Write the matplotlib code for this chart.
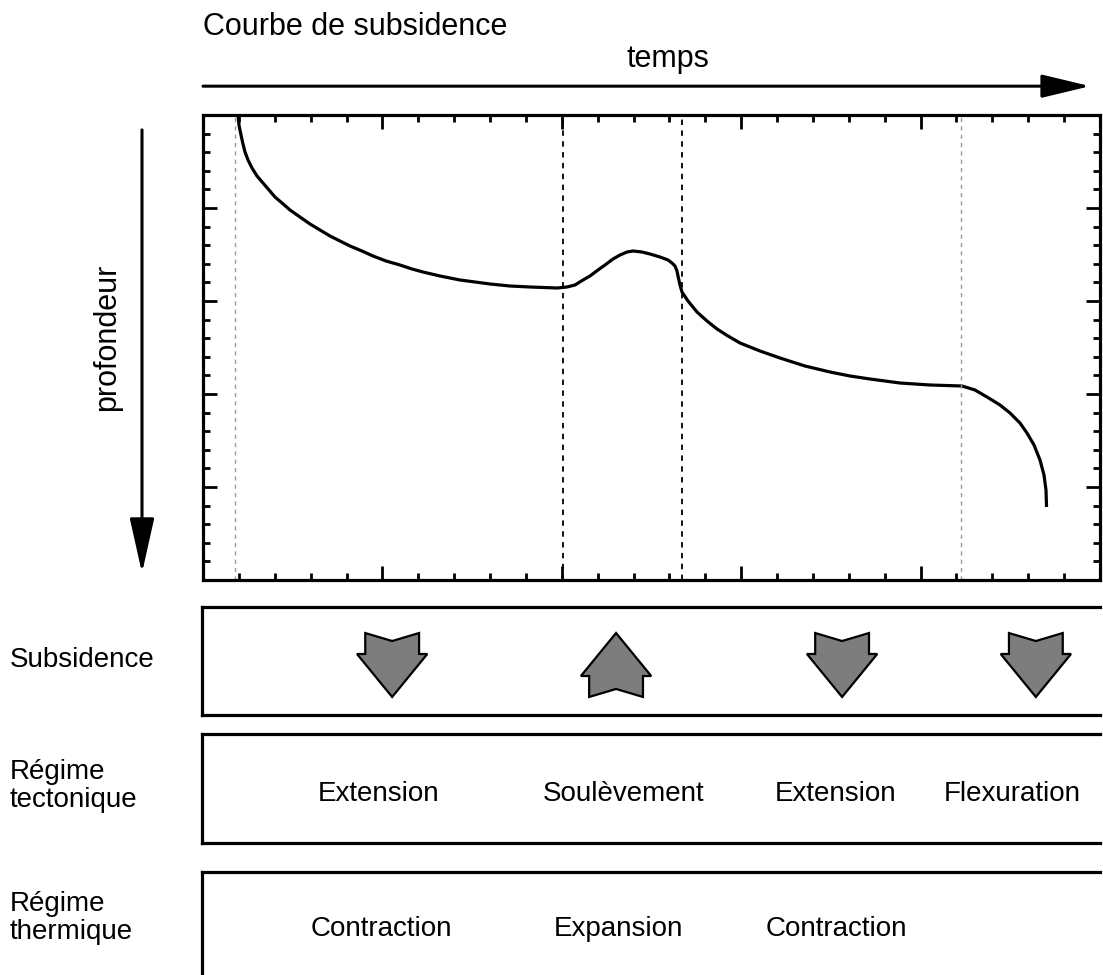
import matplotlib
matplotlib.use("Agg")
import matplotlib.pyplot as plt
from matplotlib.patches import Polygon

plt.rcParams['font.family'] = ['Liberation Sans', 'DejaVu Sans']

# subsidence curve (time units 0-25, depth units 0-25)
temps = [0.975, 1.003, 1.059, 1.115, 1.171, 1.254, 1.366, 1.505, 1.672, 1.839,
         2.007, 2.202, 2.425, 2.703, 2.982, 3.261, 3.540, 3.818, 4.097, 4.431,
         4.738, 5.100, 5.490, 5.825, 6.131, 6.605, 7.163, 7.581, 7.999, 8.556,
         9.114, 9.866, 10.145, 10.368, 10.591, 10.786, 11.009, 11.204, 11.427,
         11.622, 11.817, 11.984, 12.235, 12.458, 12.737, 12.960, 13.071, 13.155,
         13.211, 13.239, 13.294, 13.350, 13.517, 13.768, 14.047, 14.326, 14.632,
         14.967, 15.524, 16.081, 16.778, 17.475, 18.032, 18.590, 19.426, 20.262,
         21.154, 21.516, 21.851, 22.213, 22.492, 22.770, 22.965, 23.161, 23.328,
         23.439, 23.495, 23.510]
profondeur = [0.000, 0.538, 1.075, 1.559, 1.989, 2.419, 2.849, 3.280, 3.656, 4.032,
              4.409, 4.731, 5.108, 5.484, 5.860, 6.183, 6.505, 6.774, 7.043, 7.312,
              7.581, 7.849, 8.065, 8.280, 8.441, 8.656, 8.871, 8.978, 9.086, 9.194,
              9.247, 9.301, 9.247, 9.140, 8.871, 8.656, 8.333, 8.065, 7.742,
              7.527, 7.366, 7.312, 7.366, 7.473, 7.634, 7.796, 7.957, 8.118,
              8.387, 8.656, 9.140, 9.516, 10.000, 10.591, 11.075, 11.505, 11.882,
              12.258, 12.688, 13.065, 13.495, 13.817, 14.032, 14.194, 14.409, 14.516,
              14.570, 14.785, 15.161, 15.591, 16.022, 16.559, 17.097, 17.742, 18.548,
              19.355, 20.161, 21.075]

limites = [0.89, 10.03, 13.35, 21.13]
limites_couleur = ['#9a9a9a', 'black', 'black', '#9a9a9a']

subs_x = [5.30, 11.54, 17.84, 23.24]
subs_sens = ['bas', 'haut', 'bas', 'bas']

tecto_x = [4.93, 11.76, 17.67, 22.58]
tecto_labels = ['Extension', 'Soulèvement', 'Extension', 'Flexuration']

thermo_x = [4.99, 11.62, 17.67]
thermo_labels = ['Contraction', 'Expansion', 'Contraction']

W, H = 1103, 975
fig = plt.figure(figsize=(W / 100, H / 100), dpi=100)


def box(top, bottom, left=203, right=1100):
    return [left / W, (H - bottom) / H, (right - left) / W, (bottom - top) / H]


fs = 20
fs_titre = 22

# main subsidence curve
ax = fig.add_axes(box(115, 580))
ax.plot(temps, profondeur, color='black', lw=2.3, solid_capstyle='butt',
        solid_joinstyle='round')
for x, c in zip(limites, limites_couleur):
    ax.axvline(x, color=c, lw=1.3 if c == 'black' else 1.0, ls=(0, (3, 3)))
ax.set_xlim(0, 25)
ax.set_ylim(25, 0)
ax.set_xticks(range(0, 26, 5))
ax.set_xticks(range(0, 26), minor=True)
ax.set_yticks(range(0, 26, 5))
ax.set_yticks(range(0, 26), minor=True)
ax.tick_params(which='both', direction='in', top=True, right=True,
               labelbottom=False, labelleft=False, width=2)
ax.tick_params(which='major', length=10)
ax.tick_params(which='minor', length=5)
for s in ax.spines.values():
    s.set_linewidth(2.3)

ax.text(0, 1.19, 'Courbe de subsidence', transform=ax.transAxes,
        ha='left', va='center', fontsize=fs_titre)
ax.text(0.518, 1.12, 'temps', transform=ax.transAxes,
        ha='center', va='center', fontsize=fs_titre)
ax.annotate('', xy=(0.989, 1.062), xytext=(0.0, 1.062),
            xycoords='axes fraction', annotation_clip=False,
            arrowprops=dict(arrowstyle='-|>,head_length=1.5,head_width=0.36',
                            mutation_scale=20, lw=2.2, color='black',
                            shrinkA=0, shrinkB=0))
ax.annotate('', xy=(-0.068, 0.015), xytext=(-0.068, 0.968),
            xycoords='axes fraction', annotation_clip=False,
            arrowprops=dict(arrowstyle='-|>,head_length=1.7,head_width=0.38',
                            mutation_scale=20, lw=2.2, color='black',
                            shrinkA=0, shrinkB=0))
fig.text(107 / W, 1 - 337 / H, 'profondeur', rotation=90,
         ha='center', va='center', fontsize=fs_titre)


def panel(top, bottom):
    p = fig.add_axes(box(top, bottom, left=202))
    p.set_xlim(0, 25 * 898 / 897)
    p.set_ylim(0, 1)
    p.set_xticks([])
    p.set_yticks([])
    p.spines['right'].set_visible(False)
    for s in p.spines.values():
        s.set_linewidth(2.3)
    return p


# subsidence arrows
ps = panel(607, 715)
T, B = 0.759, 0.167
s, hh, n = 0.75, 0.98, 0.074
for c, d in zip(subs_x, subs_sens):
    if d == 'bas':
        yb = T - 0.194
        pts = [(c - s, T), (c, T - n), (c + s, T), (c + s, yb), (c + hh, yb),
               (c, B), (c - hh, yb), (c - s, yb)]
    else:
        yb = T - 0.398
        pts = [(c - s, B), (c, B + n), (c + s, B), (c + s, yb), (c + hh, yb),
               (c, T), (c - hh, yb), (c - s, yb)]
    ps.add_patch(Polygon(pts, closed=True, facecolor='#7d7d7d',
                         edgecolor='black', lw=1.6, joinstyle='miter'))

pt = panel(734, 843)
for x, lab in zip(tecto_x, tecto_labels):
    pt.text(x, 0.45, lab, ha='center', va='center', fontsize=fs)

pth = panel(872, 982)
for x, lab in zip(thermo_x, thermo_labels):
    pth.text(x, 0.48, lab, ha='center', va='center', fontsize=fs)

fig.text(10 / W, 1 - 660 / H, 'Subsidence', ha='left', va='center', fontsize=fs)
fig.text(10 / W, 1 - 786 / H, 'Régime\ntectonique', ha='left', va='center',
         fontsize=fs, linespacing=1.12)
fig.text(10 / W, 1 - 918 / H, 'Régime\nthermique', ha='left', va='center',
         fontsize=fs, linespacing=1.12)

fig.savefig('out.png', dpi=100)
